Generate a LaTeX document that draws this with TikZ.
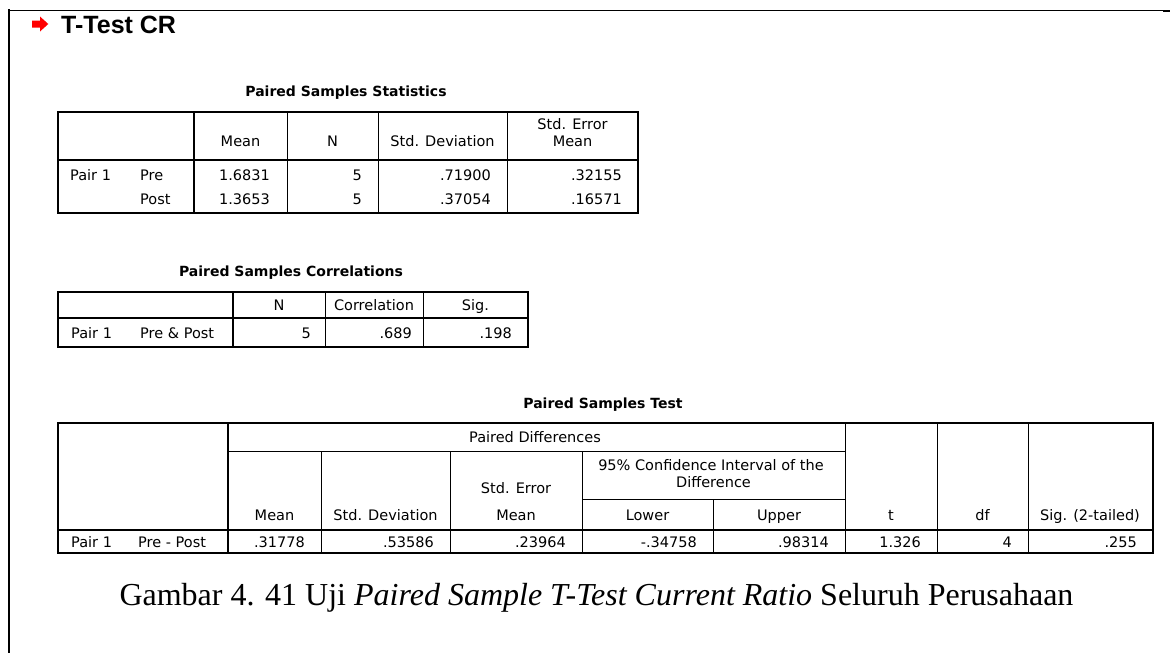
\documentclass[tikz,border=0pt]{standalone}
\usepackage{fontspec}
\setmainfont{Liberation Serif}
\newfontfamily\spssfont{DejaVu Sans}
\newfontfamily\headfont{Liberation Sans}
\begin{document}
\begin{tikzpicture}[x=1pt,y=-1pt,
  cell/.style={font=\spssfont\fontsize{14.5}{17}\selectfont, inner sep=0pt, anchor=base},
  lcell/.style={cell, anchor=base west},
  rcell/.style={cell, anchor=base east},
  ttl/.style={font=\spssfont\bfseries\fontsize{14}{17}\selectfont, inner sep=0pt, anchor=base},
  rulethick/.style={line width=1.8pt},
  rulethin/.style={line width=0.9pt},
]
\useasboundingbox (0,0) rectangle (1170,653);

% page frame
\draw[line width=1pt] (9,10) -- (1163,10);
\draw[line width=2.5pt] (1163,11) -- (1170,11);
\draw[line width=1.8pt] (9,9.1) -- (9,653);

% output heading with red arrow
\fill[red] (32,20.5) -- (40,20.5) -- (40,16.5) -- (48.3,24) -- (40,31.5) -- (40,27.5) -- (32,27.5) -- cycle;
\node[font=\headfont\bfseries\fontsize{25}{29}\selectfont, anchor=base west, inner sep=0pt] (heading) at (61,34) {T-Test CR};

% ---------- Paired Samples Statistics ----------
\node[ttl] (t1title) at (346,96) {Paired Samples Statistics};
\draw[rulethin] (287,112) -- (287,213) (378,112) -- (378,213) (507,112) -- (507,213);
\draw[rulethick] (194,112) -- (194,213);
\draw[rulethick] (58,160) -- (638,160);
\draw[rulethick] (58,112) rectangle (638,213);

\node[cell] (s_h_mean) at (240.5,146) {Mean};
\node[cell] (s_h_n) at (332.5,146) {N};
\node[cell] (s_h_sd) at (442.5,146) {Std. Deviation};
\node[cell] (s_h_se1) at (572.5,129) {Std. Error};
\node[cell] (s_h_se2) at (572.5,146) {Mean};

\node[lcell] (s_pair) at (70,180) {Pair 1};
\node[lcell] (s_pre) at (140,180) {Pre};
\node[lcell] (s_post) at (140,204) {Post};
\node[rcell] (s_m1) at (270,180) {1.6831};
\node[rcell] (s_n1) at (362,180) {5};
\node[rcell] (s_sd1) at (491,180) {.71900};
\node[rcell] (s_se1) at (622,180) {.32155};
\node[rcell] (s_m2) at (270,204) {1.3653};
\node[rcell] (s_n2) at (362,204) {5};
\node[rcell] (s_sd2) at (491,204) {.37054};
\node[rcell] (s_se2) at (622,204) {.16571};

% ---------- Paired Samples Correlations ----------
\node[ttl] (t2title) at (291,276) {Paired Samples Correlations};
\draw[rulethin] (325,292) -- (325,347) (423,292) -- (423,347);
\draw[rulethick] (233,292) -- (233,347);
\draw[rulethick] (58,318) -- (528,318);
\draw[rulethick] (58,292) rectangle (528,347);

\node[cell] (c_h_n) at (279,310) {N};
\node[cell] (c_h_r) at (374,310) {Correlation};
\node[cell] (c_h_sig) at (475.5,310) {Sig.};
\node[lcell] (c_pair) at (71,338) {Pair 1};
\node[lcell] (c_prepost) at (140,338) {Pre \& Post};
\node[rcell] (c_n) at (311,338) {5};
\node[rcell] (c_r) at (412,338) {.689};
\node[rcell] (c_sig) at (512,338) {.198};

% ---------- Paired Samples Test ----------
\node[ttl] (t3title) at (603,408) {Paired Samples Test};
\draw[rulethin] (228,451) -- (845,451);
\draw[rulethin] (582,499) -- (845,499);
\draw[rulethin] (321,451) -- (321,553) (450,451) -- (450,553) (582,451) -- (582,553)
  (713,499) -- (713,553) (845,423) -- (845,553) (937,423) -- (937,553) (1028,423) -- (1028,553);
\draw[rulethick] (228,423) -- (228,553);
\draw[rulethick] (58,530) -- (1153,530);
\draw[rulethick] (58,423) rectangle (1153,553);

\node[cell] (p_h_pd) at (535,442) {Paired Differences};
\node[cell] (p_h_ci1) at (711,470) {95\% Confidence Interval of the};
\node[cell] (p_h_ci2) at (713.5,487) {Difference};
\node[cell] (p_h_se1) at (516,493) {Std. Error};
\node[cell] (p_h_se2) at (516,520) {Mean};
\node[cell] (p_h_mean) at (274.5,520) {Mean};
\node[cell] (p_h_sd) at (385.5,520) {Std. Deviation};
\node[cell] (p_h_lo) at (647.5,520) {Lower};
\node[cell] (p_h_up) at (779,520) {Upper};
\node[cell] (p_h_t) at (891,520) {t};
\node[cell] (p_h_df) at (982.5,520) {df};
\node[cell] (p_h_sig) at (1090,520) {Sig. (2-tailed)};

\node[lcell] (p_pair) at (71,547) {Pair 1};
\node[lcell] (p_prepost) at (138,547) {Pre - Post};
\node[rcell] (p_mean) at (305,547) {.31778};
\node[rcell] (p_sd) at (434,547) {.53586};
\node[rcell] (p_se) at (566,547) {.23964};
\node[rcell] (p_lo) at (697,547) {-.34758};
\node[rcell] (p_up) at (829,547) {.98314};
\node[rcell] (p_t) at (921,547) {1.326};
\node[rcell] (p_df) at (1012,547) {4};
\node[rcell] (p_sig) at (1137,547) {.255};

% figure caption
\node[font=\fontsize{32}{37}\selectfont, anchor=base, inner sep=0pt] (caption) at (596.5,605)
  {Gambar 4. 41 Uji \textit{Paired Sample T-Test Current Ratio} Seluruh Perusahaan};
\end{tikzpicture}
\end{document}
